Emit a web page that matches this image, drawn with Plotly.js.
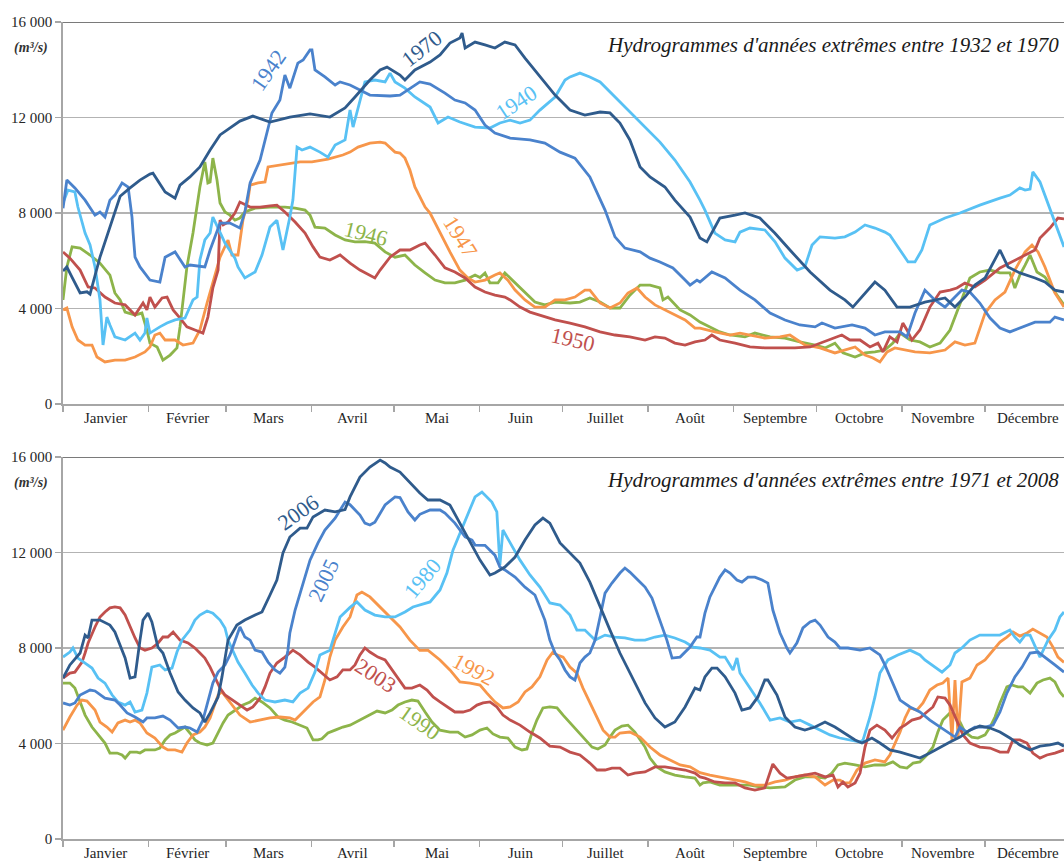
<!DOCTYPE html>
<html>
<head>
<meta charset="utf-8">
<script src="https://cdn.plot.ly/plotly-3.0.1.min.js"></script>
<style>html,body{margin:0;padding:0;background:#fff;}#chart{width:1064px;height:861px;}</style>
</head>
<body>
<div id="chart"></div>
<script>
// ---------- axis data ----------
const months = ["Janvier","Février","Mars","Avril","Mai","Juin","Juillet","Août","Septembre","Octobre","Novembre","Décembre"];
const monthStarts = [0,31,59,90,120,151,181,212,243,273,304,334,365];
const monthMids = [15.5,45,74.5,105,135.5,166,196.5,227.5,258,288.5,319,349.5];
const yTicks = [0,4000,8000,12000,16000];
const yTickText = ["0","4 000","8 000","12 000","16 000"];

// ---------- top panel series (day of year, m3/s) ----------
const d1970 = [0,1.4,3.3,6.2,8.7,9.8,13.4,20.7,24.3,27.9,31.5,32.6,37,40.6,42.4,46,49.6,53.3,56.9,60.5,64.1,68.8,75,82.2,89.5,96.7,102.2,105.8,111.2,114.9,117.4,122.1,123.9,127.5,133,136.6,140.2,143.8,144.6,145.7,149.3,152.9,156.5,160.1,163.8,167.4,172.8,178.3,183.7,189.1,194.6,198.2,201.8,205.4,209.1,212.7,218.1,221.7,227.2,230.8,233.3,238,243.5,247.1,252.5,257.9,263.4,270.7,277.9,283.3,286.2,289.9,294.2,297.8,302.2,306.9,312.3,319.6,323.2,326.8,330.4,334.1,339.5,342.4,346.7,352.2,355.8,359.4,362.7];
const q1970 = [5570,5740,5300,4650,4700,4600,6150,8700,9050,9380,9630,9670,8880,8620,9170,9510,9930,10640,11270,11560,11850,12060,11810,12020,12150,12020,12400,12860,13570,13990,14110,13780,13570,13990,14320,14620,15120,15330,15540,14910,15160,15040,14910,15160,15040,14490,13700,12940,12310,12100,12230,12190,11770,11060,9930,9510,9090,8540,7830,6950,6790,7790,7910,8000,7790,7160,6450,5530,4770,4360,4060,4560,5110,4770,4060,4060,4270,4440,4060,4480,4980,5280,6450,5740,5490,5280,5110,4770,4690];

const d1942 = [0,1.4,4.3,8,11.6,13.4,15.2,17,18.8,21.4,23.6,25,25.4,26.1,27.9,31.5,35.1,37,40.6,44.2,46,51.4,53.3,56.9,60.5,64.1,65.9,67.8,71.4,73.2,75.7,78.6,80.4,82.2,85.1,87,89.5,90.2,91.3,94.9,98.6,100.4,104,111.2,118.5,122.1,125,129.3,133,134.8,138.4,142,145.7,149.3,152.9,156.5,162,169.2,174.6,180.1,185.5,190.9,194.6,196.4,200,203.6,209.1,212.7,216.3,221,225.4,227.2,229.7,230.8,235.1,239.9,245.3,250.7,256.2,261.6,267,272.5,275,279.7,285.9,290.6,294.2,297.8,303.3,305.8,308.7,312.3,315.9,319.6,323.2,325.7,328.6,332.2,335.9,339.5,343.1,346.7,352.2,357.6,359.4,362.7];
const q1942 = [8200,9380,9050,8540,7910,8040,7830,8540,8750,9260,9090,7830,7160,6150,5740,5190,5110,6150,6370,5740,5820,5740,6450,7580,7580,7370,8040,9260,10220,11060,12190,12730,13780,13230,14280,14410,14830,14830,13990,13700,13360,13490,13360,12940,12900,12940,13150,13490,13400,13280,13020,12730,12610,12310,11680,11350,11140,11060,10930,10550,10300,9510,8540,8120,7000,6530,6370,6110,5950,5700,5190,4980,5190,5110,5530,5280,4770,4360,3810,3520,3310,3230,3390,3180,3310,3180,2890,3020,3020,2810,3810,4770,4360,4060,4480,4770,4690,4230,3600,3180,3020,3180,3430,3430,3640,3520];

const d1940 = [0,1.8,4.3,5.4,8,9.8,11.6,13.4,14.5,15.9,17,18.8,22.5,24.3,26.1,27.9,29.7,30.4,31.5,35.1,37.7,40.6,44.2,47.1,48.6,49.6,51.4,53.3,54.3,56.2,58.7,62.3,63.4,65.9,69.6,72.1,75,77.5,79.7,82.2,83.3,84.8,86.6,89.5,93.1,96,98.6,102.2,104,105.1,106.9,109.4,113,116.7,118.5,120.3,123.9,127.5,133,135.9,139.5,143.8,149.3,154.7,158.3,162,165.6,169.2,172.8,178.3,181.9,183.7,187.3,190.9,194.6,200,205.4,210.9,216.3,221.7,227.2,230.8,232.6,236.2,239.9,243.5,245.3,248.9,254.3,258,261.6,266,268.8,271.4,274.3,279.7,283.3,287,290.6,294.2,297.8,299.6,303.3,306.2,308.7,311.2,314.1,319.6,325,332.2,339.5,343.1,346.7,348.6,350.4,351.4,354,356.5,358.3,360.5,362.7];
const q1940 = [8420,8960,8880,8250,7160,6660,5740,4360,2470,3640,3310,2810,2680,2810,2970,2680,2970,3600,2970,3230,3390,3520,3600,4360,4480,6030,6870,7160,7830,7370,6740,6110,5740,5280,5530,6240,7410,7700,6450,7830,8540,10760,10640,10760,10550,10340,10850,11060,12310,11600,12440,13490,13570,13490,13860,13490,13230,12860,12440,11770,12020,11810,11600,11560,11770,11890,11770,11890,12310,12860,13570,13700,13860,13700,13490,12860,12230,11600,10970,10220,9300,8540,8120,7160,6870,6790,7200,7370,7290,6790,6110,5610,5740,6660,7000,6950,7000,7200,7500,7370,7200,7080,6450,5950,5950,6450,7500,7790,8000,8330,8620,8750,9050,8960,9000,9720,9300,8540,8000,7290,6580];

const d1946 = [0,1.4,3.3,6.2,9.8,13.4,17,18.8,20.7,22.5,26.1,28.6,30.4,31.5,34.1,36.2,38.8,41.3,42.4,44.9,47.1,48.9,49.6,51.4,52.5,53.3,54.3,55.8,56.9,58.7,60.5,62.3,64.1,65.9,69.6,75,80.4,84.1,87.7,89.5,91.3,94.9,98.6,102.2,105.8,109.4,113,116.7,120.3,123.9,127.5,131.2,134.8,138.4,142,145.7,149.3,151.1,152.9,154.7,157.6,160.1,163.8,167.4,171,174.6,178.3,183.7,187.3,190.9,194.6,198.2,201.8,205.4,209.1,212.7,216.3,217.4,219.2,223.6,227.2,230.8,234.4,238,241.7,247.1,250.7,256.2,261.6,267,272.5,276.1,279.7,282.6,287,290.6,294.2,297.8,300.7,303.3,306.9,310.5,314.1,317.8,321.4,325,328.6,332.2,335.9,339.5,343.1,344.9,346.7,348.6,350.4,352.9,355.8,359.4,362.7];
const q1946 = [4360,5740,6580,6530,6240,5900,5400,4650,4360,3850,3730,3810,3100,2550,2390,1840,2050,2350,3230,5740,7160,8540,9090,10140,9260,9300,10300,9380,8420,8040,7910,7700,7790,8040,8200,8250,8250,8200,8120,7910,7410,7370,7080,6870,6790,6800,6740,6370,6150,6240,5820,5490,5190,5070,5070,5190,5400,5300,5490,5070,5070,5490,5070,4650,4270,4150,4270,4230,4270,4440,4270,4020,4020,4560,4980,4980,4860,4360,4480,3940,3730,3430,3230,3020,2890,2810,2970,2810,2760,2600,2470,2350,2550,2140,1970,2140,2180,2260,2550,2970,2680,2600,2390,2550,3100,4230,5280,5530,5610,5490,5490,4860,5400,5820,6240,5530,5320,4690,4150];

const d1947 = [0,1.4,3.3,5.4,8,10.5,12.3,15.2,18.8,22.5,26.1,29.7,31.5,33.3,35.1,37,40.6,43.5,47.1,49.6,52.2,54.3,56.9,59.8,61.2,63.4,65.2,67,67.8,70.7,73.2,74.3,78.6,82.2,85.9,90.2,96,101.4,104,106.9,111.2,114.9,116.7,120.3,122.1,123.9,125.7,127.5,131.2,133,136.6,140.2,143.8,146.7,149.3,152.9,156.5,158.3,161.2,163.8,167.4,171,174.6,178.3,181.9,185.5,189.1,190.9,194.6,198.2,201.8,204.7,208,210.9,214.5,218.1,221.7,225.4,229,230.8,236.2,241.7,245.3,248.9,254.3,259.8,263.4,268.8,274.3,279.7,283.3,287,290.6,293.5,296,298.6,301.4,305.1,308.7,314.1,319.6,323.2,326.8,330.4,334.1,337.7,341.3,344.9,348.6,351.1,353.3,355.8,359.4,362.7];
const q1947 = [3940,4020,3230,2680,2470,2470,1970,1760,1840,1840,1970,2180,2390,2890,2970,2680,2680,2470,2550,3100,4230,5070,6150,6870,6240,6240,7700,8540,9170,9260,9300,9930,10010,10100,10140,10140,10260,10430,10550,10760,10930,10970,10930,10550,10510,10300,9800,9090,8250,8000,7160,6370,5610,5280,5110,5190,5400,5490,5190,4770,4360,4060,4060,4360,4360,4480,4770,4770,4230,4020,4230,4650,4860,4480,4150,3940,3730,3520,3180,3180,3020,2890,2970,2890,2760,2810,2890,2470,2350,2140,2260,2390,2050,1930,1760,2180,2350,2260,2180,2140,2260,2600,2470,2550,3810,4360,4690,5610,6370,6660,6370,5740,4650,4060];

const d1950 = [0,2.5,6.2,9.1,11.6,15.2,18.8,22.5,26.1,29,30.4,31.5,33.3,35.9,37.7,39.9,42.4,44.9,47.8,50.7,52.5,54.3,56.2,56.9,58,59.8,62.3,64.1,67.8,71.4,75,77.5,80.4,84.1,87.7,90.6,93.1,96.7,100.4,104,107.6,111.2,113,114.9,118.5,122.1,125.7,129.3,131.2,134.8,138.4,142,145.7,149.3,152.9,156.5,160.1,162,165.6,169.2,172.8,178.3,183.7,189.1,194.6,200,205.4,210.9,214.5,218.1,221.7,225.4,229,232.6,235.1,238,243.5,248.9,254.3,259.8,265.2,270.7,274.3,277.9,282.2,285.1,288.8,292.4,295.3,297.1,299.6,302.2,304.3,305.8,307.6,310.5,314.1,317.8,321.4,323.9,326.8,330.4,334.1,339.5,344.9,348.6,352.2,354,357.6,360.5,362.7];
const q1950 = [6370,6110,5610,4900,4860,4480,4230,4150,3730,4230,3940,4480,4060,4440,4480,3940,3600,3230,3100,2970,3640,4860,5610,7700,7500,7620,8000,8460,8250,8250,8300,8330,8040,7620,7160,6580,6150,6030,6240,5900,5610,5400,5280,5610,6150,6450,6450,6660,6740,6240,5700,5530,5280,4900,4690,4560,4480,4360,4060,3850,3730,3520,3390,3230,3020,2890,2810,2680,2810,2760,2550,2470,2600,2680,2890,2680,2550,2390,2350,2350,2350,2390,2550,2680,2890,2680,2680,2390,2550,2180,2810,2600,3390,3100,2680,3100,4060,4690,4770,4860,5070,4900,5190,5700,6030,6240,6450,6950,7370,7790,7750];

// ---------- bottom panel series ----------
const d2006 = [0,2.5,6.2,8,9.1,10.5,13.4,17,18.8,19.9,22.5,24.3,26.1,27.9,29,30.8,32.2,34.4,36.2,38.8,41.7,44.2,47.1,49.6,51.4,53.3,56.2,57.6,59.8,63,65.9,69.6,72.1,75,77.5,79.7,82.2,85.9,88.4,90.6,94.9,98.6,102.2,104,107.6,111.2,114.9,116.7,118.5,122.1,125.7,129.3,132.2,136.6,140.2,143.8,147.5,151.1,154.7,156.5,160.1,163.8,167.4,171,173.9,176.4,180.1,183.7,187.3,190.9,194.6,198.2,201.8,203.6,207.2,210.9,214.5,218.1,221.7,225.4,229,230.8,232.6,235.1,237,239.9,243.5,246,248.9,251.8,254.3,255.4,258.7,261.6,265.2,268.8,272.5,276.1,279.7,283.3,287,289.5,293.1,296,299.6,303.3,306.9,310.5,314.1,317.8,321.4,325,328.6,332.2,335.9,339.5,343.1,346.7,350.4,354,357.6,360.5,362.7];
const q2006 = [6740,7290,7790,8540,8420,9170,9170,8960,8670,8330,7580,6740,6790,8330,9170,9460,9090,8040,7790,6950,6160,5820,5490,5280,4900,5280,5950,6790,8330,8960,9170,9380,9510,10220,10850,11980,12650,13020,13020,13490,13780,13700,13800,14330,15160,15580,15870,15750,15580,15370,14910,14490,14200,14200,13990,13230,12400,11680,11060,11140,11390,11810,12520,13150,13440,13230,12400,11980,11560,10760,9720,8750,7790,7370,6530,5700,5070,4690,4900,5530,6320,6240,6790,7160,7160,6790,6110,5400,5490,5950,6660,6660,6030,5110,4690,4560,4690,4900,4690,4440,4150,4020,4230,4020,3730,3640,3520,3390,3600,3850,4060,4270,4560,4730,4650,4480,4230,3940,3730,3890,3940,4020,3890];

const d2005 = [0,2.5,4.3,6.2,9.8,11.6,15.2,18.8,20.7,23.2,26.1,29,30.4,33.3,36.2,38.8,41.7,44.2,46,48.6,50.7,52.5,54.3,56.2,58.7,60.5,62.3,64.1,65.9,67.8,69.6,72.1,74.3,76.8,78.6,80.4,81.5,82.2,84.1,85.9,87.7,89.5,92.4,94.9,98.6,102.2,104,107.6,109.4,111.2,113,116.7,120.3,122.1,125,127.5,129.3,133,136.6,138.4,142,145.7,148.2,149.3,152.9,156.5,158.3,160.1,163.8,167.4,171,174.6,176.4,178.3,180.1,181.9,183.7,185.5,187.3,189.1,190.9,192.8,194.6,196.4,198.9,201.8,203.6,205.4,208.3,210.9,213.4,216.3,218.8,220.7,223.6,227.2,229.7,230.8,232.6,234.4,236.2,238,239.9,241.7,244.2,246,248.2,250.7,253.3,255.4,257.2,259.8,262.3,263.4,265.9,268.1,270.7,272.5,274.3,277.2,279.7,281.5,284.4,288.8,292.4,295.3,296,297.8,300.7,303.3,306.9,310.5,314.1,317.8,320.7,323.2,325,327.5,330.4,334.1,337,339.5,342,344.9,347.5,350.4,353.3,355.8,359.4,362.7];
const q2005 = [5700,5610,5700,6030,6240,6200,5900,5820,5610,5280,5110,4900,5070,5070,5150,4980,4650,4690,4650,4480,4980,5820,6530,6990,7290,7710,8330,8880,8460,8330,7910,7830,7410,7080,6950,7200,7910,8630,9590,10300,10970,11680,12400,12940,13440,14110,14000,13570,13230,13150,13270,13990,14330,14300,13700,13360,13600,13780,13780,13650,13230,12650,12520,12310,12300,11890,11390,11270,10970,10550,10220,9170,8330,7790,7500,7080,6790,6660,7370,7620,7790,8330,9300,10300,10720,11140,11350,11180,10850,10550,10090,9170,8330,7580,7620,8040,8460,8460,9460,10140,10550,10970,11270,11140,10850,10760,10970,10970,10850,10720,9590,8630,8000,7790,8210,8840,9090,9170,8960,8460,8250,8000,8000,7910,8000,7790,7710,7290,6530,5820,5530,5320,4980,4690,4440,4270,4690,4480,4690,4690,4770,5320,6110,6790,7200,7790,7830,7620,7290,6990];

const d1980 = [0,2.5,3.6,5.4,8,10.5,12.7,15.2,17.8,19.9,22.5,24.3,26.1,28.6,30.4,32.2,35.1,37,39.5,41.3,43.1,46,47.8,49.6,52.2,54.3,56.9,58.7,59.8,61.2,63.4,65.9,68.5,70.7,73.2,76.8,80.4,83.3,85.9,88.8,91.3,93.1,96.7,100.4,104,106.5,109.4,113,116.7,120.3,123.9,126.8,129.3,133,136.6,139.1,141.3,143.8,146.7,149.3,151.8,152.9,155.4,157.2,158.3,159.4,162,165.6,169.2,172.8,176.4,180.1,183.7,186.2,189.1,192.8,196.4,200,203.6,207.2,210.9,214.5,218.1,221.7,225.4,228.3,230.8,234.4,238,239.9,242.8,244.2,245.3,248.9,252.5,256.2,259.8,263.4,267,270.7,274.3,277.9,281.5,285.1,288.8,289.9,292.4,294.2,296,298.9,302.5,306.9,310.5,312.3,315.9,318.5,321.4,323.2,325.7,328.6,332.2,335.9,339.5,343.1,344.9,346.7,348.6,350.4,352.2,354,356.9,359.4,361.2,362.7];
const q1980 = [7620,7830,8000,7580,7370,7160,6740,6530,6030,5740,5610,5740,5320,5400,6110,7200,7290,7080,7160,7830,8330,8750,9170,9380,9550,9460,9170,8840,8330,8000,7410,6950,6450,6110,5820,5740,5820,5740,6110,6320,6990,7710,7910,9300,9700,9930,9590,9380,9300,9300,9510,9720,9800,9930,10430,11140,12100,12820,13650,14330,14530,14410,14110,13700,11470,12940,12400,11680,11060,10550,9890,9800,9380,8750,8750,8330,8540,8460,8420,8330,8330,8460,8540,8420,8250,8040,8000,7910,7620,7620,7080,7580,6950,6320,5700,4980,5070,4900,4980,4770,4560,4360,4230,4150,4060,4150,5110,5950,6950,7500,7710,7910,7710,7500,7200,6990,7290,7790,8000,8330,8540,8540,8540,8750,8460,8250,8540,8540,8040,7620,8330,8750,9300,9510];

const d1992 = [0,2.5,5.1,6.9,8.7,11.6,13.4,15.9,17.8,19.9,22.5,24.3,26.1,27.9,30.4,33.3,36.2,38,40.6,43.1,44.9,47.1,49.6,51.4,53.3,56.2,57.6,60.5,64.1,67.8,71.4,75,78.6,82.2,84.1,87.7,90.6,93.1,94.9,96.7,98.6,101.4,104,106.5,108.3,111.2,114.9,118.5,122.1,125.7,129.3,132.2,136.6,140.2,143.8,147.5,151.1,153.6,156.5,159.4,162,164.9,167.4,169.9,172.8,175.4,177.5,179,181.2,183.7,186.2,188.4,190.9,193.5,195.7,198.2,200,201.8,205.4,209.1,212.7,216.3,219.9,223.6,227.2,230.8,234.4,238,243.5,247.1,250.7,254.3,258,261.6,265.2,268.8,272.5,276.1,279,281.5,283.3,285.1,287.7,290.6,294.2,297.8,299.6,301.4,303.3,305.1,306.9,309.4,311.6,314.1,316.7,318.8,320.7,322.1,323.2,324.3,325.7,328.6,331.2,334.1,337,339.5,342,344.2,346.7,349.3,351.4,354,356.5,358.7,360.5,362.7];
const q1992 = [4560,5110,5610,5820,5780,5400,4900,4690,4480,4860,4980,4900,4980,4860,4440,4230,3850,3730,3730,3640,4020,4360,4480,4690,5070,6030,6160,5740,5190,4900,4980,5070,5110,5070,4980,5400,5740,5950,6660,7620,8330,8880,9300,10220,10340,10140,9720,9300,8880,8330,7900,7910,7500,7080,6580,6530,6450,6110,5740,5490,5530,5740,6160,6370,6790,7500,7830,7710,7620,7200,6950,6320,5700,5110,4560,4270,4270,4440,4480,4270,3850,3520,3310,3100,3020,2780,2680,2600,2470,2390,2260,2260,2390,2470,2600,2680,2600,2260,2470,2470,2350,2350,2890,3180,3310,3230,3520,4020,4480,5070,5490,5400,5700,6240,6450,6530,6740,4150,6660,4270,6580,6740,7290,7500,7910,8250,8460,8670,8500,8630,8790,8630,8460,8040,7620,7400];

const d2003 = [0,2.5,4.3,6.9,8,9.1,11.6,13.4,15.2,17,18.8,20.7,22.5,24.3,26.1,27.9,29.7,32.2,34.4,36.2,38,39.9,42.4,45.3,47.8,49.6,51.4,53.3,55.1,56.9,58.7,61.2,64.1,66.7,68.8,71.4,73.2,75,77.5,80.4,83.3,85.9,88.8,91.3,93.8,96.7,99.3,101.4,104,105.8,107.6,109.4,111.2,114.1,116.7,118.5,120.3,122.1,123.9,126.4,129.3,131.9,134.1,136.6,139.1,142,144.9,147.5,150,152.2,154.7,157.2,159.4,162,165.6,169.2,172.8,176.4,180.1,183.7,187.3,190.9,193.5,196.4,198.9,201.8,204.7,207.2,210.9,214.5,218.1,221.7,225.4,229,230.8,232.6,236.2,239.9,243.5,247.1,250.7,254.3,256.2,257.2,259.8,262.3,265.2,268.8,272.5,276.1,279,280.8,282.6,284.4,287,288.8,290.6,292.4,294.9,297.8,300.4,303.3,305.1,307.6,310.5,313,315.2,317,319.6,321.4,323.9,326.1,328.6,332.2,335.9,339.5,342.4,344.2,346.7,349.3,351.4,354,356.5,359.4,362.7];
const q2003 = [6740,6950,6990,7410,7790,8210,8880,9300,9510,9680,9720,9680,9380,8880,8420,8000,7910,8000,8200,8460,8460,8670,8330,8210,8000,7790,7580,7200,6790,6320,6030,5820,5610,5400,5530,5900,6370,6950,7370,7620,7910,7710,7410,7200,6950,6660,6790,7080,7080,7290,7710,8000,7830,7620,7500,7200,6870,6580,6320,6320,6450,6240,5950,5740,5530,5320,5320,5400,5610,5700,5740,5530,5190,4980,4770,4480,4230,3890,3850,3640,3520,3180,2890,2890,2970,2970,2680,2760,2810,3020,3020,2970,2890,2760,2600,2550,2390,2350,2350,2140,2050,2140,2760,3140,2760,2550,2600,2680,2760,2600,2680,2180,2390,2180,2350,2760,3850,4560,4770,4560,4230,4650,4770,4980,5070,5320,5530,5950,5900,5610,4980,4360,4020,3850,3810,3640,3640,4150,4150,4020,3600,3390,3520,3600,3730];

const d1990 = [0,2.5,4.3,6.2,8,10.5,13.4,15.2,17,19.6,21.4,22.5,24.3,26.8,27.9,29.7,33.3,35.1,37,38.8,40.6,42.4,44.2,46,47.8,49.6,52.2,54.3,56.2,58,59.8,62.3,65.2,67.8,69.6,72.1,75,77.9,80.4,83,85.9,88.4,90.6,92.4,93.8,96,98.6,101.4,104,107.6,111.2,113.8,116.7,119.2,121.4,123.9,126.4,128.6,131.2,133.7,136.6,140.2,143.1,145.7,148.2,151.1,153.6,155.8,158.3,161.2,163.8,166.3,168.1,169.9,171.7,173.9,176.4,179,181.2,183.7,186.6,189.1,191.7,193.8,196.4,198.2,200,202.5,204.7,207.2,209.1,210.9,212.7,215.2,218.1,221.7,225.4,229,230.8,231.9,234.4,238,243.5,248.9,252.5,256.2,261.6,265.2,268.8,272.5,276.1,278.6,280.8,283.3,287,290.6,294.2,297.8,300.7,303.3,305.8,308,310.5,313,315.2,317,318.8,321.4,323.2,325,326.8,329.3,331.5,334.1,335.9,337.7,339.5,342,343.8,346,347.8,350.4,352.9,355.1,357.6,359.4,361.2,362.7];
const q1990 = [6530,6530,6320,5740,5190,4690,4270,4020,3600,3600,3520,3390,3640,3640,3600,3730,3730,3810,4150,4360,4440,4560,4690,4440,4150,4020,3940,4020,4480,4860,5190,5400,5610,5740,5900,5740,5490,5110,4980,4900,4770,4650,4150,4150,4200,4440,4560,4690,4770,4980,5190,5360,5280,5400,5610,5740,5820,5780,5320,4900,4560,4480,4480,4270,4360,4560,4650,4400,4270,4230,3850,3730,3770,4440,4980,5490,5530,5490,5190,4860,4480,4150,3850,3770,3940,4270,4560,4730,4770,4480,4150,3850,3390,3020,2810,2680,2600,2550,2260,2350,2390,2260,2260,2260,2180,2140,2180,2470,2600,2600,2550,2760,3100,3180,3100,3020,3100,3100,3230,3020,2970,3180,3230,3520,3850,4480,4980,5280,5200,4900,4480,4270,4230,4360,4690,5110,5700,6370,6450,6370,6370,6110,6530,6660,6740,6580,6160,5950];

// ---------- styling ----------
const C = {dark:"#2f5b8c", mid:"#4a82cc", light:"#58c1f4", green:"#8db44a", orange:"#f7964a", red:"#c0504d"};
const W = 1064, H = 861, ML = 63;
const px = x => (x - ML) / (W - ML);
const py = y => 1 - y / H;
const FONT = "Liberation Serif, Times New Roman, serif";

function tr(d, q, color, xa, ya) {
  return {x: d, y: q, type: "scatter", mode: "lines", xaxis: xa, yaxis: ya,
          line: {color: color, width: 2.8}, hoverinfo: "skip", showlegend: false};
}

const traces = [
  tr(d1946, q1946, C.green, "x", "y"),
  tr(d1947, q1947, C.orange, "x", "y"),
  tr(d1950, q1950, C.red, "x", "y"),
  tr(d1940, q1940, C.light, "x", "y"),
  tr(d1942, q1942, C.mid, "x", "y"),
  tr(d1970, q1970, C.dark, "x", "y"),
  tr(d1990, q1990, C.green, "x2", "y2"),
  tr(d1992, q1992, C.orange, "x2", "y2"),
  tr(d2003, q2003, C.red, "x2", "y2"),
  tr(d1980, q1980, C.light, "x2", "y2"),
  tr(d2005, q2005, C.mid, "x2", "y2"),
  tr(d2006, q2006, C.dark, "x2", "y2")
];

const XR = [0, 362.7];
const tickAxis = (anchor) => ({
  domain: [0, 1], range: XR, anchor: anchor, tickmode: "array", tickvals: monthStarts,
  ticks: "outside", ticklen: 6, tickwidth: 1.5, tickcolor: "#a6a6a6", showticklabels: false,
  showline: true, linecolor: "#a6a6a6", linewidth: 1.8, showgrid: false, zeroline: false, fixedrange: true
});
const yAxis = (dom, anchor) => ({
  domain: dom, range: [0, 16000], anchor: anchor, tickmode: "array", tickvals: yTicks, ticktext: yTickText,
  ticks: "outside", ticklen: 6, tickwidth: 1.5, tickcolor: "#a6a6a6",
  showline: true, linecolor: "#a6a6a6", linewidth: 1.8, showgrid: true, gridcolor: "#b3b3b3", gridwidth: 1.3,
  zeroline: false, tickfont: {family: FONT, size: 15, color: "#262626"}, fixedrange: true
});

const topDom = [py(404), py(22)];
const botDom = [py(839), py(457)];

function ann(text, x, y, color, size, angle, extra) {
  return Object.assign({text: text, x: px(x), y: py(y), xref: "paper", yref: "paper", showarrow: false,
    xanchor: "center", yanchor: "middle",
    textangle: angle || 0, font: {family: FONT, size: size, color: color}}, extra || {});
}

const annotations = [
  ann("<i>Hydrogrammes d'années extrêmes entre 1932 et 1970</i>", 1061, 45, "#1a1a1a", 21, 0, {xanchor: "right"}),
  ann("<i>Hydrogrammes d'années extrêmes entre 1971 et 2008</i>", 1061, 480, "#1a1a1a", 21, 0, {xanchor: "right"}),
  ann("<b><i>(m³/s)</i></b>", 12, 48, "#333333", 14, 0, {xanchor: "left"}),
  ann("<b><i>(m³/s)</i></b>", 12, 483, "#333333", 14, 0, {xanchor: "left"}),
  ann("1942", 268, 70, C.mid, 22, -55),
  ann("1970", 422, 49, C.dark, 22, -38),
  ann("1940", 516, 102, C.light, 22, -33),
  ann("1946", 366, 233, C.green, 22, 14),
  ann("1947", 460, 237, C.orange, 22, 58),
  ann("1950", 573, 339, C.red, 22, 13),
  ann("2006", 298, 512, C.dark, 22, -35),
  ann("2005", 323, 580, C.mid, 22, -65),
  ann("1980", 422, 578, C.light, 22, -50),
  ann("2003", 376, 675, C.red, 22, 33),
  ann("1992", 474, 669, C.orange, 22, 28),
  ann("1990", 420, 722, C.green, 22, 35)
];
// month labels centred between the month tick marks, below each x axis
[["x", 418], ["x2", 853]].forEach(([xr, yy]) => {
  months.forEach((m, i) => {
    annotations.push({text: m, x: monthMids[i], xref: xr, y: py(yy), yref: "paper", showarrow: false,
      xanchor: "center", yanchor: "middle", font: {family: FONT, size: 15, color: "#262626"}});
  });
});

const shapes = [
  {type: "line", xref: "paper", yref: "y", x0: 0, x1: 1, y0: 16000, y1: 16000, line: {color: "#7a7a7a", width: 2.2}},
  {type: "line", xref: "paper", yref: "y2", x0: 0, x1: 1, y0: 16000, y1: 16000, line: {color: "#7a7a7a", width: 2.2}}
];

const layout = {
  width: W, height: H, margin: {l: ML, r: 0, t: 0, b: 0, pad: 0},
  paper_bgcolor: "#ffffff", plot_bgcolor: "#ffffff", showlegend: false,
  font: {family: FONT, size: 15, color: "#262626"},
  xaxis: tickAxis("y"), xaxis2: tickAxis("y2"),
  yaxis: yAxis(topDom, "x"), yaxis2: yAxis(botDom, "x2"),
  annotations: annotations, shapes: shapes
};

Plotly.newPlot("chart", traces, layout, {displayModeBar: false, staticPlot: true});
</script>
</body>
</html>
